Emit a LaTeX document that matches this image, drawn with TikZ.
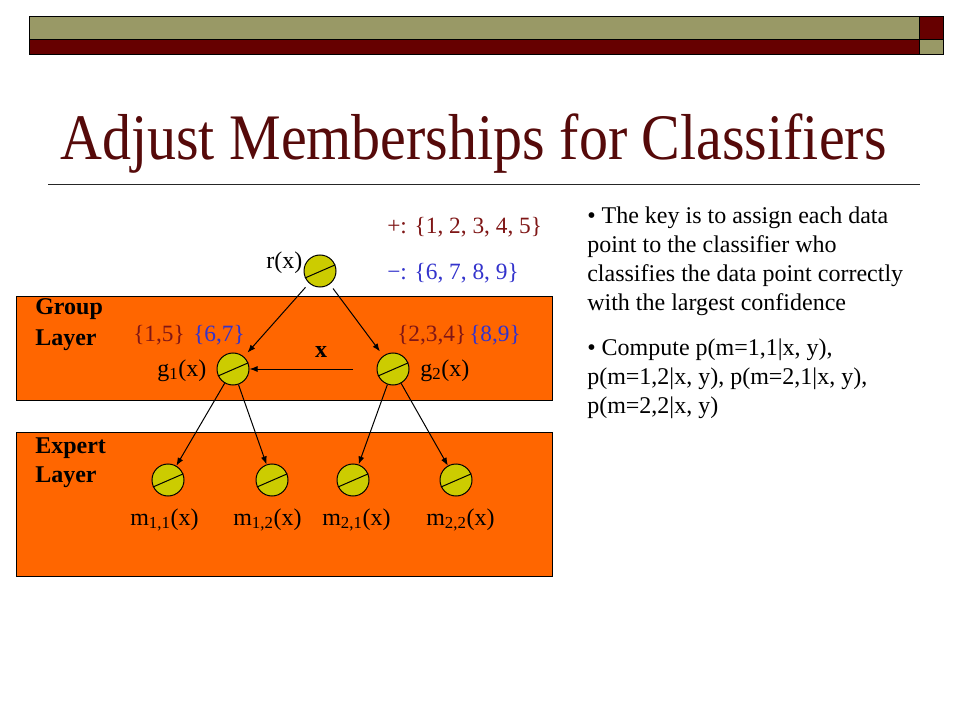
\documentclass[tikz,border=0pt]{standalone}
\usepackage{fontspec}
\setmainfont{Liberation Serif}
\usetikzlibrary {positioning}
\usetikzlibrary {arrows.meta}
\definecolor{barOlive}{HTML}{999966}
\definecolor{barRed}{HTML}{660000}
\definecolor{titleRed}{HTML}{560A0A}
\definecolor{layerOrange}{HTML}{FF6600}
\definecolor{unitYellow}{HTML}{CCCC00}
\definecolor{setRed}{HTML}{7F1616}
\definecolor{setBlue}{HTML}{3333CC}
\tikzset{
unit/.style={circle,minimum size=24pt,inner sep=0pt,draw=black,line width=0.75pt,fill=unitYellow}
}
\tikzset{
layer/.style={rectangle,anchor=north west,inner sep=0pt,minimum width=402pt,draw=black,line width=0.75pt,fill=layerOrange}
}
\tikzset{
lbl/.style={inner sep=0pt,anchor=base west,font=\fontsize{18}{21.75}\selectfont}
}
\tikzset{
setlbl/.style={lbl,font=\fontsize{17.5}{21}\selectfont}
}
\tikzset{
conn/.style={-{Latex[length=6pt,width=4.5pt]},line width=0.75pt}
}
\begin{document}
\begin{tikzpicture}[x=0.75pt,y=-0.75pt]
\fill[white] (0,0) rectangle (960,720);
\useasboundingbox (0,0) rectangle (960,720);
%------------------------------------------------------------------------------------------------------------%
\draw[fill=barOlive,line width=0.75pt] (29,17) rectangle (919,40);
\draw[fill=barRed,line width=0.75pt] (919,17) rectangle (943,40);
\draw[fill=barRed,line width=0.75pt] (29,40) rectangle (919,55);
\draw[fill=barOlive,line width=0.75pt] (919,40) rectangle (943,55);
\node[anchor=base west,inner sep=0pt,text=titleRed,font=\fontsize{43.5}{50}\selectfont] (title) at (60,160) {\scalebox{1}[1.12]{Adjust Memberships for Classifiers}};
\draw[line width=0.75pt,black!85] (48,185) -- (920,185);
%------------------------------------------------------------------------------------------------------------%
\node[layer,minimum height=78pt] (group) at (16,296) {};
\node[layer,minimum height=108pt] (expert) at (16,432) {};
\node[lbl,font=\fontsize{18}{21.75}\selectfont\bfseries] (groupA) at (35,315) {Group};
\node[lbl,font=\fontsize{18}{21.75}\selectfont\bfseries] (groupB) at (35,345) {Layer};
\node[lbl,font=\fontsize{18}{21.75}\selectfont\bfseries] (expertA) at (35,453) {Expert};
\node[lbl,font=\fontsize{18}{21.75}\selectfont\bfseries] (expertB) at (35,482) {Layer};
%------------------------------------------------------------------------------------------------------------%
\node[unit] (r) at (320,271) {};
\node[unit] (g1) at (233,369) {};
\node[unit] (g2) at (393,369) {};
\node[unit] (m11) at (168,480) {};
\node[unit] (m12) at (272,480) {};
\node[unit] (m21) at (353,480) {};
\node[unit] (m22) at (456,480) {};
\foreach \n in {r,g1,g2,m11,m12,m21,m22}
{
\draw[line width=0.75pt] (\n.205) -- (\n.22);
}
%------------------------------------------------------------------------------------------------------------%
\draw[conn,shorten <=4pt,shorten >=4pt] (r) -- (g1);
\draw[conn,shorten <=4pt,shorten >=4pt] (r) -- (g2);
\draw[conn] (g1) -- (m11);
\draw[conn] (g1) -- (m12);
\draw[conn] (g2) -- (m21);
\draw[conn] (g2) -- (m22);
\coordinate (xtail) at (353,369);
\draw[conn] (xtail) -- (g1);
\node[lbl,anchor=base,font=\fontsize{18}{21.75}\selectfont\bfseries] (xlbl) at (321,357) {x};
%------------------------------------------------------------------------------------------------------------%
\node[lbl] (rlbl) at (266,269) {r(x)};
\node[lbl] (g1lbl) at (157,376) {g\textsubscript{1}(x)};
\node[lbl] (g2lbl) at (420,376) {g\textsubscript{2}(x)};
\node[lbl] (m11lbl) at (130,525) {m\textsubscript{1,1}(x)};
\node[lbl] (m12lbl) at (233,525) {m\textsubscript{1,2}(x)};
\node[lbl] (m21lbl) at (322,525) {m\textsubscript{2,1}(x)};
\node[lbl] (m22lbl) at (426,525) {m\textsubscript{2,2}(x)};
%------------------------------------------------------------------------------------------------------------%
\node[setlbl,text=setRed] (plus) at (387,234) {+: \{1, 2, 3, 4, 5\}};
\node[setlbl,text=setBlue] (minus) at (387,280) {−: \{6, 7, 8, 9\}};
\node[setlbl,text=setRed] (g1pos) at (133,341) {\{1,5\}};
\node[setlbl,text=setBlue] (g1neg) at (193,341) {\{6,7\}};
\node[setlbl,text=setRed] (g2pos) at (397,341) {\{2,3,4\}};
\node[setlbl,text=setBlue] (g2neg) at (469,341) {\{8,9\}};
%------------------------------------------------------------------------------------------------------------%
\node[lbl,anchor=north west,align=left] (keytext) at (587,202.7) {\strut• The key is to assign each data\\point to the classifier who\\classifies the data point correctly\\with the largest confidence};
\node[lbl,anchor=north west,align=left] (computetext) at (587,334.7) {\strut• Compute p(m=1,1|x, y),\\p(m=1,2|x, y), p(m=2,1|x, y),\\p(m=2,2|x, y)};
\end{tikzpicture}
\end{document}
